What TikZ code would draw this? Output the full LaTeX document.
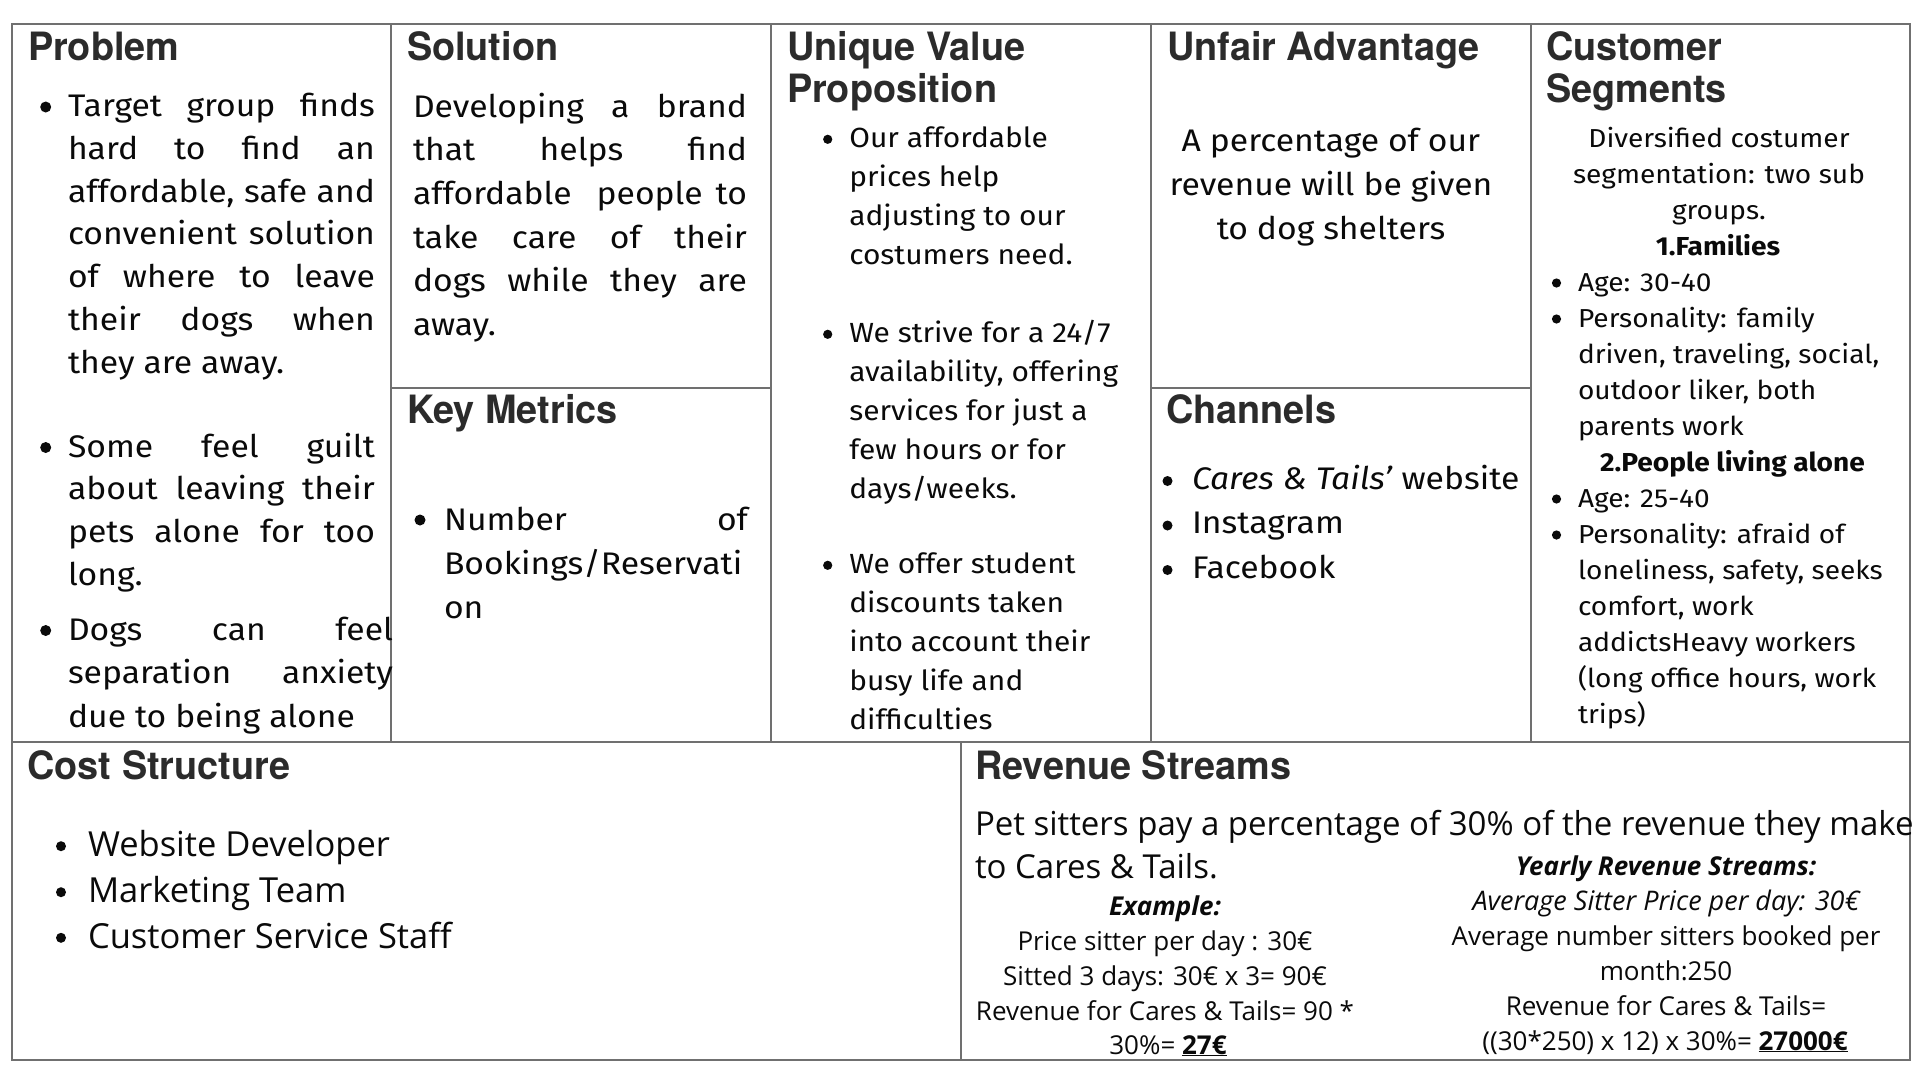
\documentclass[tikz,border=0pt]{standalone}
\usepackage{fontspec}
\setmainfont[FakeStretch=1.08]{Fira Sans}
\newfontfamily\headfont[FakeStretch=0.97]{TeX Gyre Heros}
\newfontfamily\plainfont{Open Sans}

\definecolor{gridgray}{RGB}{112,112,112}
\definecolor{headgray}{RGB}{43,43,43}
\definecolor{bodyink}{RGB}{10,10,10}

% font size in pt with matching leading
\newcommand\fs[1]{\fontsize{#1}{#1}\selectfont}
% a line stretched to a fixed width (justified line)
\newcommand\jline[2]{\makebox[#1][s]{#2}}

\tikzset{
  gridline/.style={draw=gridgray, line width=1.6pt},
  head/.style={anchor=base west, inner sep=0pt, outer sep=0pt,
    font=\headfont\bfseries\fs{39}, text=headgray},
  txt/.style={anchor=base west, inner sep=0pt, outer sep=0pt, text=bodyink},
  ctxt/.style={anchor=base, inner sep=0pt, outer sep=0pt, text=bodyink},
  bodyL/.style={font=\fs{31.2}},
  bodyM/.style={font=\fs{27.7}},
  bodyS/.style={font=\fs{26}},
  costL/.style={font=\plainfont\fs{34.5}},
  revL/.style={font=\plainfont\fs{33}},
  revS/.style={font=\plainfont\fs{26}},
}

\begin{document}
\begin{tikzpicture}[x=1pt,y=-1pt]
\useasboundingbox (0,0) rectangle (1920,1080);
\fill[white] (0,0) rectangle (1920,1080);

% ---------- canvas grid ----------
\draw[gridline] (12,24) rectangle (1910,1060);
\draw[gridline] (12,742) -- (1910,742);
\foreach \gx in {391,771,1151,1531} \draw[gridline] (\gx,24) -- (\gx,742);
\draw[gridline] (391,388) -- (771,388);
\draw[gridline] (1151,388) -- (1531,388);
\draw[gridline] (961,742) -- (961,1060);

% ---------- headings ----------
\node[head] (hProblem)  at (28,60)    {Problem};
\node[head] (hSolution) at (407,60)   {Solution};
\node[head] (hUVP1)     at (787,60)   {Unique Value};
\node[head] (hUVP2)     at (787,102.5){Proposition};
\node[head] (hUnfair)   at (1167,60)  {Unfair Advantage};
\node[head] (hCust1)    at (1546,60)  {Customer};
\node[head] (hCust2)    at (1546,102.5){Segments};
\node[head] (hMetrics)  at (407,423)  {Key Metrics};
\node[head] (hChannels) at (1166,423) {Channels};
\node[head] (hCost)     at (27.5,779) {Cost Structure};
\node[head] (hRevenue)  at (975,779)  {Revenue Streams};

% ---------- Problem ----------
\foreach \t [count=\k from 0] in {
  {\jline{307pt}{Target group finds}},
  {\jline{307pt}{hard to find an}},
  {\jline{307pt}{affordable, safe and}},
  {\jline{307pt}{convenient solution}},
  {\jline{307pt}{of where to leave}},
  {\jline{307pt}{their dogs when}},
  {they are away.}}
  \node[txt,bodyL] (pa\k) at (68,{116.5+42.75*\k}) {\t};
\foreach \t [count=\k from 0] in {
  {\jline{307pt}{Some feel guilt}},
  {\jline{307pt}{about leaving their}},
  {\jline{307pt}{pets alone for too}},
  {long.}}
  \node[txt,bodyL] (pb\k) at (68,{457+42.7*\k}) {\t};
\foreach \t [count=\k from 0] in {
  {\jline{325pt}{Dogs can feel}},
  {\jline{325pt}{separation anxiety}},
  {due to being alone}}
  \node[txt,bodyL] (pc\k) at (68,{640+43.5*\k}) {\t};
\foreach \by in {107,447.5,630.5} \fill[bodyink] (45.7,\by) circle[radius=5.5pt];

% ---------- Solution ----------
\foreach \t [count=\k from 0] in {
  {\jline{334pt}{Developing a brand}},
  {\jline{334pt}{that helps find}},
  {\jline{334pt}{affordable\hspace{12pt} people to}},
  {\jline{334pt}{take care of their}},
  {\jline{334pt}{dogs while they are}},
  {away.}}
  \node[txt,bodyL] (s\k) at (413,{117+43.7*\k}) {\t};

% ---------- Key Metrics ----------
\foreach \t [count=\k from 0] in {
  {\jline{304pt}{Number of}},
  {Bookings/Reservati},
  {on}}
  \node[txt,bodyL] (km\k) at (444,{530.5+44*\k}) {\t};
\fill[bodyink] (420,520) circle[radius=5.5pt];

% ---------- Unique Value Proposition ----------
\foreach \t [count=\k from 0] in {
  {Our affordable},{prices help},{adjusting to our},{costumers need.}}
  \node[txt,bodyM] (ua\k) at (849.3,{147+39*\k}) {\t};
\foreach \t [count=\k from 0] in {
  {We strive for a 24/7},{availability, offering},{services for just a},
  {few hours or for},{days/weeks.}}
  \node[txt,bodyM] (ub\k) at (849.3,{342+39*\k}) {\t};
\foreach \t [count=\k from 0] in {
  {We offer student},{discounts taken},{into account their},
  {busy life and},{difficulties}}
  \node[txt,bodyM] (uc\k) at (849.3,{573+39*\k}) {\t};
\foreach \by in {139.3,334.3,565.3} \fill[bodyink] (827.7,\by) circle[radius=4.6pt];

% ---------- Unfair Advantage ----------
\foreach \t [count=\k from 0] in {
  {A percentage of our},{revenue will be given},{to dog shelters}}
  \node[ctxt,bodyL] (ad\k) at (1331,{151.5+44*\k}) {\t};

% ---------- Channels ----------
\node[txt,bodyL] (ch0) at (1192,489) {\textit{Cares \& Tails’} website};
\node[txt,bodyL] (ch1) at (1192,533.5) {Instagram};
\node[txt,bodyL] (ch2) at (1192,578) {Facebook};
\foreach \by in {481,525.5,570} \fill[bodyink] (1167.5,\by) circle[radius=5pt];

% ---------- Customer Segments ----------
\node[ctxt,bodyS] (cs0) at (1719,147) {Diversified costumer};
\node[ctxt,bodyS] (cs1) at (1719,183) {segmentation: two sub};
\node[ctxt,bodyS] (cs2) at (1719,219) {groups.};
\node[ctxt,font=\bfseries\fs{26}] (cs3) at (1718,255) {1.Families};
\foreach \t [count=\k from 4] in {
  {Age: 30-40},{Personality: family},{driven, traveling, social,},
  {outdoor liker, both},{parents work}}
  \node[txt,bodyS] (cs\k) at (1578,{147+36*\k}) {\t};
\node[ctxt,font=\bfseries\fs{26}] (cs9) at (1732.5,471) {2.People living alone};
\foreach \t [count=\k from 10] in {
  {Age: 25-40},{Personality: afraid of},{loneliness, safety, seeks},
  {comfort, work},{addictsHeavy workers},{(long office hours, work},{trips)}}
  \node[txt,bodyS] (cs\k) at (1578,{147+36*\k}) {\t};
\foreach \by in {283,319,499,535} \fill[bodyink] (1556.5,\by) circle[radius=4.6pt];

% ---------- Cost Structure ----------
\node[txt,costL] (co0) at (88,856.7) {Website Developer};
\node[txt,costL] (co1) at (88,902.7) {Marketing Team};
\node[txt,costL] (co2) at (88,948.3) {Customer Service Staff};
\foreach \by in {846.2,892.2,937.8} \fill[bodyink] (61,\by) circle[radius=5pt];

% ---------- Revenue Streams ----------
\node[txt,revL] (rv0) at (975,835) {Pet sitters pay a percentage of 30\% of the revenue they make};
\node[txt,revL] (rv1) at (975,878) {to Cares \& Tails.};

\node[ctxt,font=\plainfont\bfseries\itshape\fs{26}] (ex0) at (1165,915) {Example:};
\node[ctxt,revS] (ex1) at (1165,950) {Price sitter per day : 30€};
\node[ctxt,revS] (ex2) at (1165,985) {Sitted 3 days: 30€ x 3= 90€};
\node[ctxt,revS] (ex3) at (1165,1020) {Revenue for Cares \& Tails= 90 *};
\node[ctxt,revS] (ex4) at (1168,1054) {30\%= \underline{\textbf{27€}}};

\node[ctxt,font=\plainfont\bfseries\itshape\fs{26}] (yr0) at (1666,875) {Yearly Revenue Streams:};
\node[ctxt,font=\plainfont\itshape\fs{27}] (yr1) at (1666,910) {Average Sitter Price per day: 30€};
\node[ctxt,revS] (yr2) at (1666,945) {Average number sitters booked per};
\node[ctxt,revS] (yr3) at (1666,980) {month:250};
\node[ctxt,revS] (yr4) at (1666,1015) {Revenue for Cares \& Tails=};
\node[ctxt,revS] (yr5) at (1665,1050) {((30*250) x 12) x 30\%= \underline{\textbf{27000€}}};

\end{tikzpicture}
\end{document}
